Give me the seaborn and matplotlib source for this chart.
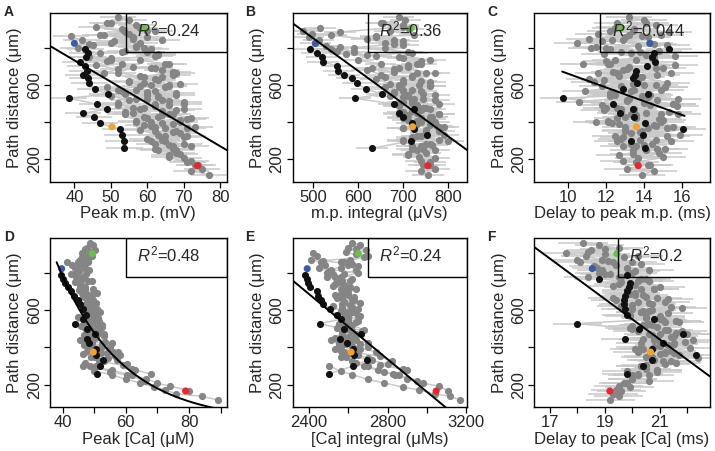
import numpy as np
import pandas as pd
import matplotlib
matplotlib.use("Agg")
import matplotlib.pyplot as plt
from matplotlib.patches import Rectangle
import seaborn as sns

sns.set_style("ticks")
plt.rcParams['font.family'] = ['Liberation Sans', 'DejaVu Sans']
plt.rcParams['mathtext.fontset'] = 'custom'
plt.rcParams['mathtext.rm'] = 'Liberation Sans'
plt.rcParams['mathtext.it'] = 'Liberation Sans:italic'
plt.rcParams['axes.edgecolor'] = 'black'

# path distance (um) of the grey segments, one list per branch
gray_dist = [
    [962, 951, 933, 921, 900, 889, 868, 857, 838, 826],
    [905, 890, 872, 858, 842, 826, 810, 795, 780, 766],
    [860, 840, 815, 796, 770, 752, 727, 708, 683, 664],
    [801, 777, 758, 732, 713, 688, 670, 644, 626, 600],
    [742, 714, 694, 666, 646, 618, 598, 570, 550, 522],
    [681, 655, 634, 606, 586, 558, 538, 510, 490, 462],
    [622, 594, 574, 546, 526, 498, 478, 450, 430, 402],
    [562, 534, 514, 486, 466, 438, 418, 390, 370, 342],
    [502, 474, 454, 426, 406, 378, 358, 330, 310, 282],
    [442, 414, 394, 366, 346, 318, 298, 270, 250, 222],
    [382, 350, 328, 298, 278, 250, 232, 208, 192, 168],
    [302, 272, 254, 228, 210, 186, 172, 150, 138, 118],
    [930, 912, 884, 866, 846, 818, 800, 776, 756, 735],
    [712, 690, 662, 640, 612, 592, 566, 544, 518, 496],
    [590, 568, 540, 520, 494, 470, 446, 424, 398, 376],
    [470, 446, 420, 400, 372, 352, 326, 304, 280, 256],
]

# grey segment values per measure
gray_peak_mp = [
    [52, 55, 49, 57, 53, 60, 47, 56, 51, 58],
    [58, 62, 55, 60, 64, 50, 57, 61, 54, 63],
    [39, 42, 45, 41, 47, 44, 49, 46, 52, 48],
    [57, 60, 63, 58, 65, 61, 67, 59, 63, 66],
    [50, 53, 56, 52, 58, 55, 61, 57, 54, 60],
    [64, 67, 62, 69, 65, 68, 63, 70, 66, 64],
    [55, 58, 52, 60, 57, 62, 59, 56, 63, 61],
    [60, 63, 66, 62, 68, 64, 71, 67, 65, 69],
    [52, 56, 54, 59, 57, 61, 58, 63, 60, 62],
    [66, 69, 64, 71, 67, 70, 65, 72, 68, 66],
    [59, 62, 65, 61, 66, 63, 68, 70, 72, 74],
    [64, 67, 62, 69, 66, 71, 73, 75, 72, 77],
    [50, 46, 54, 48, 56, 44, 59, 53, 62, 50],
    [66, 62, 68, 64, 59, 66, 62, 68, 64, 70],
    [49, 53, 50, 55, 52, 58, 54, 60, 57, 62],
    [70, 67, 72, 69, 73, 68, 71, 64, 70, 67],
]
gray_int_mp = [
    [690, 705, 655, 700, 712, 670, 725, 640, 700, 660],
    [515, 478, 498, 490, 512, 505, 528, 540, 553, 572],
    [640, 680, 700, 660, 720, 690, 740, 710, 680, 730],
    [560, 590, 620, 600, 650, 630, 680, 660, 700, 690],
    [700, 730, 710, 750, 720, 760, 735, 700, 745, 725],
    [620, 650, 640, 670, 690, 680, 710, 700, 730, 720],
    [740, 760, 720, 770, 745, 780, 750, 730, 765, 740],
    [680, 700, 720, 690, 740, 710, 760, 730, 700, 750],
    [720, 745, 700, 760, 730, 775, 750, 790, 720, 760],
    [690, 710, 730, 700, 750, 720, 700, 740, 770, 710],
    [760, 780, 740, 800, 765, 730, 750, 770, 740, 760],
    [700, 720, 745, 710, 735, 760, 745, 770, 740, 755],
    [650, 700, 560, 540, 620, 680, 590, 710, 640, 760],
    [740, 690, 770, 720, 700, 760, 740, 710, 770, 690],
    [660, 700, 670, 720, 690, 740, 780, 700, 730, 780],
    [760, 780, 740, 770, 790, 750, 730, 780, 750, 720],
]
gray_delay_mp = [
    [13.2, 14.0, 12.6, 14.6, 13.5, 12.2, 14.9, 13.0, 11.8, 14.3],
    [12.5, 13.4, 11.6, 14.2, 12.9, 10.5, 13.7, 12.2, 14.8, 11.9],
    [13.9, 12.3, 15.2, 11.2, 13.3, 14.5, 12.0, 15.6, 13.1, 12.6],
    [11.5, 12.8, 14.1, 13.6, 10.8, 15.0, 12.4, 13.8, 11.9, 14.6],
    [14.4, 12.1, 13.2, 15.4, 12.7, 11.4, 14.0, 13.5, 12.3, 15.8],
    [12.9, 14.7, 11.1, 13.4, 15.1, 12.2, 13.9, 10.6, 14.3, 12.8],
    [13.7, 11.8, 14.9, 12.5, 13.2, 15.5, 12.0, 14.1, 13.0, 11.5],
    [12.4, 14.2, 13.1, 15.7, 11.9, 13.6, 14.8, 12.7, 15.2, 13.3],
    [14.0, 12.6, 15.3, 13.5, 12.1, 14.6, 13.0, 15.9, 12.8, 14.4],
    [13.3, 15.0, 12.3, 14.2, 13.8, 12.9, 15.4, 13.6, 14.1, 12.7],
    [14.5, 13.0, 15.2, 12.6, 14.0, 13.4, 14.8, 13.7, 12.9, 14.3],
    [13.8, 12.9, 14.7, 13.4, 15.0, 13.6, 14.2, 13.1, 14.5, 13.9],
    [14.1, 12.7, 15.3, 13.2, 11.1, 14.5, 12.0, 13.8, 15.6, 12.5],
    [12.2, 14.6, 11.6, 13.9, 15.2, 12.8, 10.9, 14.3, 13.1, 15.5],
    [15.1, 13.3, 12.2, 14.7, 11.8, 13.5, 15.8, 12.6, 14.9, 13.0],
    [12.8, 14.9, 13.6, 12.1, 15.5, 13.9, 12.5, 14.6, 13.3, 15.1],
]
gray_peak_ca = [
    [48.5, 49.5, 47.8, 50.2, 48.9, 49.2, 47.5, 48.0, 46.8, 47.2],
    [46.0, 47.2, 45.5, 44.8, 46.6, 43.9, 45.2, 47.5, 44.3, 46.1],
    [41.5, 43.0, 44.8, 42.5, 45.8, 44.0, 47.0, 45.2, 46.5, 48.2],
    [44.5, 46.5, 48.0, 45.6, 47.2, 49.5, 46.8, 48.8, 47.5, 50.2],
    [45.5, 47.0, 46.2, 48.5, 47.6, 49.8, 48.2, 50.5, 49.0, 51.5],
    [48.0, 49.6, 47.3, 50.8, 48.7, 51.2, 49.5, 52.5, 50.3, 53.0],
    [46.4, 47.8, 49.2, 48.0, 50.6, 49.1, 51.8, 50.2, 53.5, 55.0],
    [44.8, 46.6, 45.9, 47.7, 46.8, 48.9, 47.5, 50.0, 52.0, 54.5],
    [47.2, 48.8, 50.5, 49.3, 52.5, 55.8, 58.0, 57.2, 60.5, 62.0],
    [45.5, 46.8, 48.3, 46.5, 49.0, 47.2, 50.5, 55.0, 60.5, 66.0],
    [47.8, 50.2, 53.0, 48.6, 55.5, 62.0, 66.5, 70.0, 74.0, 80.0],
    [46.5, 50.0, 55.5, 60.0, 64.5, 69.0, 72.5, 76.0, 84.0, 89.0],
    [47.0, 48.8, 46.2, 47.9, 45.4, 48.4, 44.6, 46.9, 49.3, 45.8],
    [49.5, 51.0, 47.9, 50.4, 48.6, 51.8, 49.9, 47.4, 52.4, 50.9],
    [47.0, 49.6, 51.4, 48.2, 50.9, 53.0, 49.5, 55.5, 52.0, 57.5],
    [50.0, 47.5, 52.6, 49.4, 54.0, 56.5, 51.6, 59.0, 63.0, 68.0],
]
gray_int_ca = [
    [2620, 2660, 2600, 2690, 2640, 2700, 2610, 2580, 2650, 2560],
    [2420, 2440, 2410, 2460, 2480, 2450, 2500, 2520, 2490, 2540],
    [2560, 2600, 2640, 2580, 2620, 2550, 2610, 2590, 2530, 2570],
    [2490, 2530, 2570, 2520, 2600, 2560, 2630, 2580, 2610, 2640],
    [2530, 2560, 2600, 2540, 2580, 2620, 2570, 2660, 2600, 2550],
    [2600, 2630, 2570, 2650, 2610, 2580, 2640, 2590, 2670, 2620],
    [2520, 2560, 2540, 2590, 2550, 2600, 2570, 2530, 2610, 2560],
    [2580, 2600, 2550, 2620, 2570, 2640, 2590, 2660, 2610, 2700],
    [2540, 2570, 2600, 2550, 2620, 2580, 2650, 2720, 2800, 2880],
    [2510, 2550, 2530, 2600, 2560, 2640, 2700, 2780, 2860, 2950],
    [2560, 2590, 2620, 2680, 2750, 2840, 2900, 2980, 3060, 3110],
    [2500, 2560, 2620, 2700, 2780, 2880, 2960, 3040, 3120, 3170],
    [2640, 2590, 2680, 2470, 2620, 2510, 2650, 2560, 2610, 2580],
    [2640, 2590, 2620, 2660, 2570, 2630, 2600, 2650, 2580, 2610],
    [2600, 2650, 2570, 2620, 2680, 2640, 2590, 2700, 2650, 2740],
    [2620, 2580, 2660, 2700, 2640, 2760, 2820, 2760, 2900, 2830],
]
gray_delay_ca = [
    [18.2, 18.8, 19.5, 18.5, 19.0, 20.2, 18.0, 19.3, 18.6, 19.8],
    [17.6, 18.3, 18.9, 18.1, 19.4, 18.7, 20.1, 19.2, 18.4, 20.5],
    [20.0, 19.4, 20.6, 19.0, 20.3, 19.6, 21.0, 19.8, 20.4, 19.3],
    [18.8, 19.6, 20.2, 19.3, 20.8, 19.9, 20.5, 21.2, 20.0, 20.7],
    [19.5, 20.3, 19.8, 20.9, 20.2, 21.4, 20.6, 19.9, 21.0, 20.4],
    [20.1, 19.4, 20.7, 20.0, 21.3, 20.5, 21.7, 20.9, 20.2, 21.5],
    [19.6, 20.4, 19.9, 21.1, 20.6, 20.0, 21.6, 20.8, 21.9, 20.3],
    [20.5, 21.2, 20.0, 21.8, 20.7, 22.2, 21.0, 20.4, 21.5, 22.4],
    [19.9, 20.6, 21.4, 20.3, 21.0, 20.2, 21.7, 20.8, 21.2, 20.5],
    [20.8, 21.3, 20.1, 21.0, 20.5, 21.6, 20.3, 20.9, 20.0, 20.6],
    [21.4, 20.7, 21.1, 20.4, 20.9, 20.2, 20.0, 19.8, 19.5, 19.6],
    [20.3, 19.8, 20.6, 20.0, 19.7, 19.9, 19.4, 19.3, 19.5, 19.2],
    [19.0, 18.4, 19.7, 19.1, 20.3, 18.9, 20.0, 19.5, 20.6, 20.1],
    [20.8, 20.1, 21.3, 20.6, 21.8, 20.3, 21.0, 21.6, 20.5, 21.2],
    [20.3, 21.0, 21.6, 20.7, 21.3, 22.0, 20.9, 21.5, 22.1, 21.2],
    [21.0, 20.4, 21.5, 20.8, 21.2, 20.6, 21.4, 20.5, 20.9, 20.2],
]

# main trunk (black points)
black_dist = [791, 770, 748, 725, 701, 676, 653, 635, 608, 576, 551,
              528, 497, 470, 447, 426, 394, 361, 331, 300, 259]
black_peak_mp = [43.0, 43.6, 43.2, 41.6, 42.9, 43.4, 42.3, 43.6, 44.1, 45.7, 49.1,
                 38.4, 46.3, 48.9, 42.3, 45.4, 47.1, 52.6, 53.1, 53.5, 53.7]
black_int_mp = [493, 508, 519, 522, 552, 556, 569, 586, 598, 618, 653,
                593, 679, 724, 690, 700, 719, 724, 752, 718, 631]
black_delay_mp = [15.3, 14.5, 14.4, 14.55, 14.15, 13.6, 13.55, 13.42, 13.65, 12.9, 14.2,
                  9.77, 12.4, 13.42, 12.73, 13.46, 14.03, 16.03, 13.94, 13.3, 14.07]
black_peak_ca = [39.5, 40.0, 40.7, 41.8, 42.6, 43.6, 44.9, 45.5, 46.3, 47.4, 46.5,
                 43.9, 47.6, 50.2, 47.8, 48.4, 50.5, 50.6, 52.8, 51.8, 50.8]
black_int_ca = [2378, 2387, 2395, 2404, 2441, 2446, 2460, 2472, 2506, 2540, 2560,
                2455, 2580, 2664, 2557, 2591, 2625, 2630, 2694, 2625, 2502]
black_delay_ca = [19.79, 18.79, 19.9, 19.87, 19.8, 19.75, 19.7, 19.69, 19.75, 19.79, 20.78,
                  18.0, 20.25, 21.85, 19.75, 21.12, 20.7, 22.33, 20.7, 20.4, 19.79]

# marked sites: green, blue, orange, red
site_names = ['green', 'blue', 'orange', 'red']
site_dist = [904, 823, 375, 166]
site_peak_mp = [59.1, 40.0, 50.3, 73.8]
site_int_mp = [718, 505, 721, 755]
site_delay_mp = [12.8, 14.3, 13.6, 13.7]
site_peak_ca = [49.4, 39.7, 49.7, 78.9]
site_int_ca = [2651, 2390, 2614, 3048]
site_delay_ca = [19.43, 18.54, 20.66, 19.18]
site_colors = ['#6cc04a', '#3b5ba9', '#f2a230', '#e8262b']

# fits: linear y = a + b*x, exponential y = a*exp(b*x)
fit_kind = ['lin', 'lin', 'lin', 'exp', 'lin', 'lin']
fit_a = [1193, 1728, 1033, 5546, 2781, 2723]
fit_b = [-11.53, -1.755, -37.2, -0.0490, -0.873, -108.6]
fit_from = [33.3, 454, 9.72, 38.1, 2315, 16.43]
fit_to = [81.8, 842, 16.12, 91.9, 3205, 22.82]
r2_text = ['0.24', '0.36', '0.044', '0.48', '0.24', '0.2']
err_half = [5.0, 35, 1.2, 0.5, 10, 0.9]

letters = ['A', 'B', 'C', 'D', 'E', 'F']
xlabels = ['Peak m.p. (mV)', 'm.p. integral (μVs)', 'Delay to peak m.p. (ms)',
           'Peak [Ca] (μM)', '[Ca] integral (μMs)', 'Delay to peak [Ca] (ms)']
xlims = [(33.3, 81.8), (454, 842), (8.26, 17.44), (36, 91.9), (2315, 3205), (16.43, 22.82)]
xticks = [[40, 50, 60, 70, 80], [500, 600, 700, 800], [10, 12, 14, 16],
          [40, 50, 60, 70, 80, 90], [2400, 2600, 2800, 3000, 3200], [17, 18, 19, 20, 21, 22]]
xticklabels = [['40', '50', '60', '70', '80'], ['500', '600', '700', '800'],
               ['10', '12', '14', '16'], ['40', '', '60', '', '80', ''],
               ['2400', '', '2800', '', '3200'], ['17', '', '19', '', '21', '']]
box_left = [0.43, 0.433, 0.377, 0.43, 0.433, 0.477]

gray_vals = [gray_peak_mp, gray_int_mp, gray_delay_mp, gray_peak_ca, gray_int_ca, gray_delay_ca]
black_vals = [black_peak_mp, black_int_mp, black_delay_mp, black_peak_ca, black_int_ca, black_delay_ca]
site_vals = [site_peak_mp, site_int_mp, site_delay_mp, site_peak_ca, site_int_ca, site_delay_ca]

W, H = 715, 451
lefts = [50, 292.5, 534.3]
widths = [176.7, 174.5, 175.5]
tops = [13, 238.3]
height = 168.7

LINK = '#c9c9c9'
GRAY = '#858585'

fig = plt.figure(figsize=(W / 100, H / 100), dpi=100)

for i in range(6):
    row, col = divmod(i, 3)
    ax = fig.add_axes([lefts[col] / W, 1 - (tops[row] + height) / H, widths[col] / W, height / H])
    err = err_half[i]

    # light grey connections and error bars
    for d, v in zip(gray_dist, gray_vals[i]):
        ax.plot(v, d, color=LINK, lw=1.1, zorder=1)
        ax.hlines(d, np.array(v) - err, np.array(v) + err, color=LINK, lw=1.1, zorder=1)
    ax.plot(black_vals[i], black_dist, color=LINK, lw=1.1, zorder=1)
    ax.hlines(black_dist, np.array(black_vals[i]) - err, np.array(black_vals[i]) + err,
              color=LINK, lw=1.1, zorder=1)

    gray = pd.DataFrame({'val': np.concatenate(gray_vals[i]), 'dist': np.concatenate(gray_dist)})
    sns.scatterplot(data=gray, x='val', y='dist', color=GRAY, s=27, linewidth=0, ax=ax, zorder=2)
    trunk = pd.DataFrame({'val': black_vals[i], 'dist': black_dist})
    sns.scatterplot(data=trunk, x='val', y='dist', color='#111111', s=26, linewidth=0, ax=ax, zorder=3)
    sites = pd.DataFrame({'val': site_vals[i], 'dist': site_dist, 'site': site_names})
    sns.scatterplot(data=sites, x='val', y='dist', hue='site', palette=site_colors, s=26,
                    linewidth=0, ax=ax, zorder=4, legend=False)

    # fitted line
    xs = np.linspace(fit_from[i], fit_to[i], 200)
    if fit_kind[i] == 'lin':
        ys = fit_a[i] + fit_b[i] * xs
    else:
        ys = fit_a[i] * np.exp(fit_b[i] * xs)
    ax.plot(xs, ys, color='black', lw=1.4, zorder=5)

    # R^2 box
    bl = box_left[i]
    ax.add_patch(Rectangle((bl, 0.77), 1 - bl, 0.23, transform=ax.transAxes,
                           fill=False, ec='black', lw=1.0, zorder=6))
    ax.text(bl + 0.065, 0.905, '$R^2$=' + r2_text[i], transform=ax.transAxes,
            fontsize=12, va='center', ha='left', zorder=7)

    ax.set_xlim(*xlims[i])
    ax.set_ylim(80, 986)
    ax.set_xticks(xticks[i])
    ax.set_xticklabels(xticklabels[i])
    ax.set_yticks([200, 400, 600, 800])
    ax.set_yticklabels(['200', '', '600', ''], rotation=90, va='center')
    ax.tick_params(direction='out', length=4, width=0.9, labelsize=12, pad=2, color='black')
    ax.set_xlabel(xlabels[i], fontsize=12, labelpad=1)
    ax.set_ylabel('Path distance (μm)', fontsize=12, labelpad=3)
    for sp in ax.spines.values():
        sp.set_linewidth(1.0)

    fig.text((4 if col == 0 else lefts[col] - 47) / W, 1 - (tops[row] - 1) / H, letters[i],
             fontsize=10, weight='bold', va='center', ha='left')

fig.savefig('out.png', dpi=100)
